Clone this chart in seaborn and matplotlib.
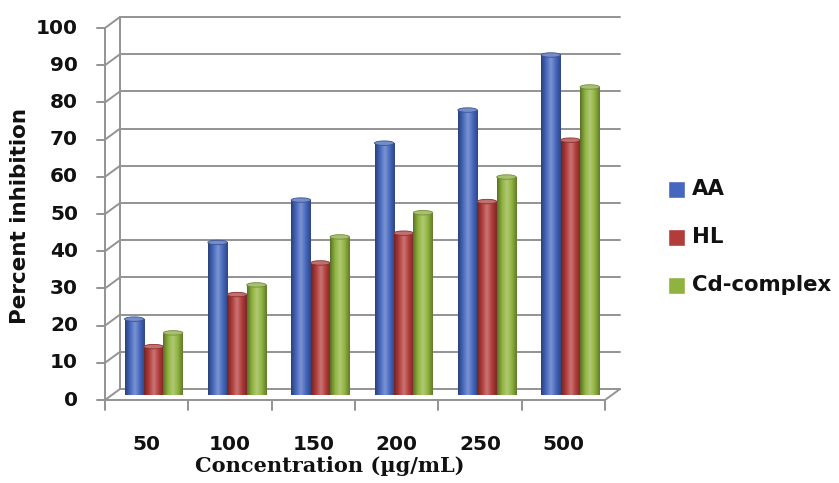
import numpy as np
import pandas as pd
import matplotlib
matplotlib.use("Agg")
import matplotlib.pyplot as plt
import seaborn as sns
from matplotlib.transforms import Affine2D
from matplotlib.lines import Line2D
from matplotlib.patches import Ellipse, Rectangle
from matplotlib.colors import LinearSegmentedColormap, to_rgb

# ---- data ----
concentrations = ["50", "100", "150", "200", "250", "500"]
series_names = ["AA", "HL", "Cd-complex"]
aa_values = [20.4, 41.0, 52.4, 67.7, 76.6, 91.4]
hl_values = [13.0, 27.0, 35.5, 43.5, 52.0, 68.5]
cd_values = [16.7, 29.6, 42.5, 49.0, 58.6, 82.8]
y_ticks = [0, 10, 20, 30, 40, 50, 60, 70, 80, 90, 100]

colors = ["#4567be", "#b13c3a", "#8fb33e"]

df = pd.DataFrame({
    "Concentration": concentrations * 3,
    "Series": sum([[s] * len(concentrations) for s in series_names], []),
    "Value": aa_values + hl_values + cd_values,
})

sns.set_theme(style="white")
plt.rcParams["font.family"] = ["DejaVu Sans"]

W, H = 839, 483
fig = plt.figure(figsize=(W / 100, H / 100), dpi=100)
# middle depth plane: x 112..612 px, y 395 (0) .. 23 (100)
ax = fig.add_axes([112 / W, (H - 395) / H, 500 / W, 372 / H])

sns.barplot(data=df, x="Concentration", y="Value", hue="Series",
            palette=colors, width=0.7, gap=0, saturation=1,
            edgecolor="none", ax=ax, legend=False, zorder=3)
for s in ax.spines.values():
    s.set_visible(False)
ax.set_xticks([])
ax.set_yticks([])
ax.set_xlabel("")
ax.set_ylabel("")

grid_col = "#939393"
back = ax.transData + Affine2D().translate(8, 6)
front = ax.transData + Affine2D().translate(-7, -5)
x0, x1 = -0.5, len(concentrations) - 0.5

# cylinder-like shading on bars
bar_cols = sum([[c] * len(concentrations) for c in colors], [])
for patch, col in zip(list(ax.patches), bar_cols):
    x, y = patch.get_x(), patch.get_y()
    w, h = patch.get_width(), patch.get_height()
    if h <= 0:
        continue
    base = np.array(to_rgb(col))
    dark = base * 0.62
    light = np.clip(base + (1 - base) * 0.3, 0, 1)
    cmap = LinearSegmentedColormap.from_list("c", [dark, base, light, base, dark * 1.1], N=256)
    grad = np.linspace(0, 1, 64).reshape(1, -1)
    im = ax.imshow(grad, extent=[x, x + w, y, y + h], aspect="auto",
                   cmap=cmap, zorder=4, interpolation="bicubic")
    im.set_clip_path(patch)
    ax.add_patch(Ellipse((x + w / 2, y + h), w, 1.2, facecolor=light * 0.95,
                         edgecolor=base * 0.8, lw=0.6, zorder=5))
ax.set_xlim(x0, x1)
ax.set_ylim(0, 100)

lw = 1.4
# back wall gridlines and left wall stubs
for v in y_ticks:
    ax.add_line(Line2D([x0, x1], [v, v], color=grid_col, lw=lw,
                       transform=back, zorder=1, clip_on=False))
    p_front = front.transform((x0, v))
    p_back = back.transform((x0, v))
    fig.add_artist(Line2D([p_front[0] / W, p_back[0] / W], [p_front[1] / H, p_back[1] / H],
                          color=grid_col, lw=lw, transform=fig.transFigure, zorder=1))
    fig.add_artist(Line2D([(p_front[0] - 8) / W, p_front[0] / W], [p_front[1] / H, p_front[1] / H],
                          color=grid_col, lw=lw, transform=fig.transFigure))
    fig.text((p_front[0] - 27) / W, p_front[1] / H, str(v), ha="right", va="center",
             fontsize=14.5, fontweight="bold", color="#111111")

ax.add_line(Line2D([x0, x0], [0, 100], color=grid_col, lw=lw, transform=back,
                   zorder=1, clip_on=False))
ax.add_line(Line2D([x0, x0], [0, 100], color=grid_col, lw=lw, transform=front,
                   zorder=6, clip_on=False))
ax.add_line(Line2D([x0, x1], [0, 0], color=grid_col, lw=lw, transform=front,
                   zorder=6, clip_on=False))
pf = front.transform((x1, 0))
pb = back.transform((x1, 0))
fig.add_artist(Line2D([pf[0] / W, pb[0] / W], [pf[1] / H, pb[1] / H],
                      color=grid_col, lw=lw, transform=fig.transFigure))

for i in range(len(concentrations) + 1):
    p = front.transform((i - 0.5, 0))
    fig.add_artist(Line2D([p[0] / W, p[0] / W], [p[1] / H, (p[1] - 10) / H],
                          color=grid_col, lw=lw, transform=fig.transFigure))
for i, c in enumerate(concentrations):
    p = front.transform((i, 0))
    fig.text(p[0] / W, (H - 445) / H, c, ha="center", va="center",
             fontsize=14.5, fontweight="bold", color="#111111")

fig.text(20 / W, (H - 216) / H, "Percent inhibition", rotation=90, ha="center",
         va="center", fontsize=15.5, fontweight="bold", color="#111111")
fig.text(330 / W, (H - 466) / H, "Concentration (µg/mL)", ha="center", va="center",
         fontsize=15, fontweight="bold", family="DejaVu Serif", color="#111111")

# legend
for k, (name, col) in enumerate(zip(series_names, colors)):
    yc = 189 + k * 48
    fig.patches.append(Rectangle((668 / W, (H - yc - 8.5) / H), 17 / W, 17 / H,
                                 facecolor=col, transform=fig.transFigure, figure=fig))
    fig.text(692 / W, (H - yc) / H, name, ha="left", va="center", fontsize=15.3,
             fontweight="bold", color="#111111")

fig.savefig("out.png", dpi=100, facecolor="white")
